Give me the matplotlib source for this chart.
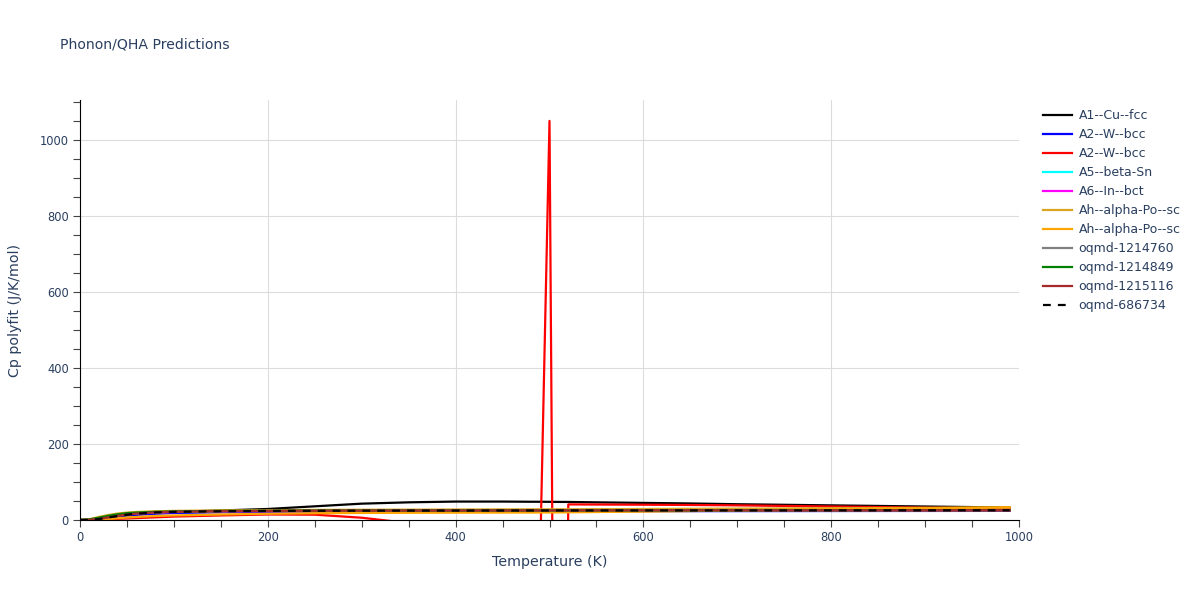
import matplotlib
matplotlib.use("Agg")
import matplotlib.pyplot as plt
from matplotlib.ticker import MultipleLocator

# ---------------- data ----------------
T = [0, 10, 20, 30, 40, 50, 60, 80, 100, 150, 200, 250, 300, 350, 400, 450,
     480, 490, 500, 510, 520, 550, 600, 650, 700, 750, 800, 850, 900, 950, 990]

cu_fcc = [0, 0.5, 3, 7, 11, 14, 16.5, 19.5, 21.5, 25, 29, 36, 43, 46.5, 48.5, 48.5,
          48, 48, 47.8, 47.6, 47.5, 46.5, 45, 43.5, 41.5, 40, 38.5, 37, 35.5, 34, 33]
w_bcc_1 = [0, 0.3, 2, 5, 8.5, 11.5, 13.5, 16.5, 18.5, 20.5, 21.5, 22, 22.3, 22.5, 22.7, 22.8,
           22.9, 22.9, 23, 23, 23, 23.1, 23.2, 23.3, 23.4, 23.5, 23.6, 23.7, 23.8, 23.9, 24]
w_bcc_2 = [0, 0.2, 1, 2, 3, 4, 5, 7, 9, 12, 14.5, 14, 6, -8, -30, -60,
           -85, -100, 1050, -2500, 41, 40.7, 40.2, 39.5, 38.5, 37, 35.5, 34, 32.5, 31.2, 30]
sn_beta = [0, 1, 5, 9.5, 13, 16, 18, 20.5, 21.8, 23.3, 24, 24.4, 24.7, 24.9, 25.1, 25.2,
           25.3, 25.3, 25.4, 25.4, 25.4, 25.5, 25.6, 25.7, 25.8, 25.9, 26, 26.1, 26.2, 26.3, 26.4]
in_bct = [0, 0.8, 4, 8.5, 12, 15, 17, 19.5, 21, 22.6, 23.3, 23.6, 23.8, 23.9, 24, 24,
          24, 24, 24.1, 24.1, 24.1, 24.1, 24.1, 24.1, 24.2, 24.2, 24.2, 24.2, 24.2, 24.3, 24.3]
po_sc_1 = [0, 2, 8, 13, 17, 19.5, 21, 23, 24, 25.3, 26, 26.5, 27, 27.3, 27.6, 28,
           28.1, 28.2, 28.2, 28.3, 28.3, 28.5, 29, 29.5, 30, 30.5, 31, 31.5, 32, 32.5, 33]
po_sc_2 = [0, 0.2, 1, 2.5, 4.5, 6.5, 8, 10.5, 12, 14.5, 16.5, 17.8, 18.5, 19, 19.3, 19.5,
           19.6, 19.7, 19.8, 20, 20.2, 21, 22, 23.5, 25, 26.5, 28, 29.5, 31, 32.5, 33.5]
oq_1214760 = [0, 0.5, 3, 7, 11, 14.5, 17, 20, 21.5, 23, 23.8, 24.2, 24.5, 24.7, 24.8, 24.9,
              25, 25, 25, 25.1, 25.1, 25.1, 25.2, 25.2, 25.3, 25.3, 25.4, 25.4, 25.5, 25.5, 25.6]
oq_1214849 = [0, 1.5, 6, 11, 15, 18, 19.5, 21.5, 22.5, 23.8, 24.3, 24.6, 24.8, 24.9, 25, 25.1,
              25.1, 25.2, 25.2, 25.2, 25.2, 25.3, 25.3, 25.4, 25.4, 25.5, 25.5, 25.6, 25.6, 25.7, 25.7]
oq_1215116 = [0, 0.4, 2.8, 6.8, 10.8, 14.2, 16.8, 20, 21.6, 23.2, 24, 24.4, 24.7, 24.9, 25, 25.1,
              25.2, 25.2, 25.2, 25.3, 25.3, 25.3, 25.4, 25.4, 25.5, 25.5, 25.6, 25.6, 25.7, 25.7, 25.8]
oq_686734 = [0, 0.3, 2.5, 6.5, 10.5, 14, 16.5, 19.8, 21.4, 23, 23.8, 24.2, 24.5, 24.7, 24.8, 24.9,
             25, 25, 25, 25.1, 25.1, 25.1, 25.2, 25.2, 25.3, 25.3, 25.4, 25.4, 25.5, 25.5, 25.6]

series = [
    ("A1--Cu--fcc", cu_fcc, "black", "-"),
    ("A2--W--bcc", w_bcc_1, "blue", "-"),
    ("A2--W--bcc", w_bcc_2, "red", "-"),
    ("A5--beta-Sn", sn_beta, "cyan", "-"),
    ("A6--In--bct", in_bct, "magenta", "-"),
    ("Ah--alpha-Po--sc", po_sc_1, "goldenrod", "-"),
    ("Ah--alpha-Po--sc", po_sc_2, "orange", "-"),
    ("oqmd-1214760", oq_1214760, "gray", "-"),
    ("oqmd-1214849", oq_1214849, "green", "-"),
    ("oqmd-1215116", oq_1215116, "brown", "-"),
    ("oqmd-686734", oq_686734, "black", "--"),
]

TEXT = "#2a3f5f"
plt.rcParams["font.family"] = ["DejaVu Sans"]

fig = plt.figure(figsize=(12, 6), dpi=100)
ax = fig.add_axes([80 / 1200, 1 - 520 / 600, (1019 - 80) / 1200, (520 - 100) / 600])

for name, vals, col, ls in series:
    if ls == "--":
        ax.plot(T, vals, color=col, lw=1.6, linestyle=(0, (3.5, 3.2)), label=name)
    else:
        ax.plot(T, vals, color=col, lw=1.6, label=name)

ax.set_xlim(0, 1000)
ax.set_ylim(0, 1105)
ax.xaxis.set_major_locator(MultipleLocator(200))
ax.xaxis.set_minor_locator(MultipleLocator(50))
ax.yaxis.set_major_locator(MultipleLocator(200))
ax.yaxis.set_minor_locator(MultipleLocator(50))
ax.grid(True, which="major", color="#dcdcdc", lw=0.8)
ax.set_axisbelow(True)
for s in ("top", "right"):
    ax.spines[s].set_visible(False)
for s in ("left", "bottom"):
    ax.spines[s].set_color("black")
    ax.spines[s].set_linewidth(0.8)
ax.tick_params(which="both", direction="out", color="#444444", labelcolor=TEXT,
               labelsize=8.3, width=0.8)
ax.tick_params(which="major", length=5, pad=3)
ax.tick_params(which="minor", length=5)

ax.set_xlabel("Temperature (K)", color=TEXT, fontsize=10.3, labelpad=8)
ax.set_ylabel("Cp polyfit (J/K/mol)", color=TEXT, fontsize=10.3, labelpad=13)

fig.text(60 / 1200, 1 - 45 / 600, "Phonon/QHA Predictions", color=TEXT,
         fontsize=10.1, ha="left", va="center")

handles, labels = ax.get_legend_handles_labels()
leg = fig.legend(handles, labels, loc="upper left",
                 bbox_to_anchor=(1038 / 1200, 1 - 104 / 600),
                 frameon=False, fontsize=9.0, handlelength=2.3,
                 handletextpad=0.55, labelspacing=0.48, borderaxespad=0)
for t in leg.get_texts():
    t.set_color(TEXT)

fig.savefig("out.png", dpi=100)
